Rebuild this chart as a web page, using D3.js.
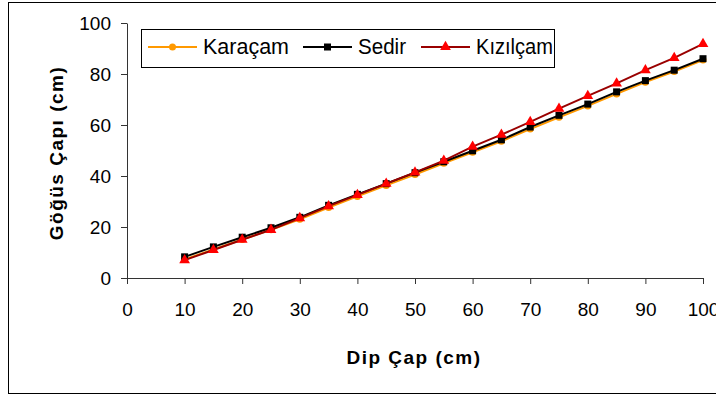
<!DOCTYPE html>
<html><head><meta charset="utf-8">
<script src="https://cdn.jsdelivr.net/npm/d3@7"></script>
<style>body{margin:0;background:#fff}svg{display:block}</style>
</head><body>
<svg id="c" width="716" height="396"></svg>
<script>
const dipCap = [10,15,20,25,30,35,40,45,50,55,60,65,70,75,80,85,90,95,100];
const karacam = [7.3,11.2,15.1,18.9,23,27.6,32,36.3,40.6,45,49.3,53.6,58.4,63,67.5,72.2,76.8,81,85.5];
const sedir = [8.3,12.2,16,19.7,23.8,28.5,32.8,37,41.3,45.6,49.9,54.2,59.2,63.8,68.2,73,77.4,81.5,86];
const kizilcam = [7,11,15,18.9,23.5,28.2,32.6,37,41.4,46,51.5,56.2,61.2,66.4,71.4,76.3,81.5,86.3,91.8];
const xTicks = [0,10,20,30,40,50,60,70,80,90,100];
const yTicks = [0,20,40,60,80,100];
const seriesNames = ["Karaçam","Sedir","Kızılçam"];

const svg = d3.select("#c");
const font = "Arial, 'Liberation Sans', sans-serif";
svg.append("rect").attr("x",8.5).attr("y",2.5).attr("width",730).attr("height",391)
  .attr("fill","#fff").attr("stroke","#000").attr("stroke-width",1);

const x = d3.scaleLinear().domain([0,100]).range([127,703]);
const y = d3.scaleLinear().domain([0,100]).range([278,23]);

const gx = svg.append("g").attr("transform","translate(0,278)")
  .call(d3.axisBottom(x).tickValues(xTicks).tickSize(6).tickPadding(19).tickSizeOuter(0));
const gy = svg.append("g").attr("transform","translate(127,0)")
  .call(d3.axisLeft(y).tickValues(yTicks).tickSize(6).tickPadding(10).tickSizeOuter(0));
[gx,gy].forEach(g=>{
  g.select(".domain").attr("stroke","#333");
  g.selectAll(".tick line").attr("stroke","#333");
  g.selectAll("text").attr("font-family",font).attr("font-size",19).attr("fill","#000");
});

svg.append("text").attr("x",414).attr("y",364).attr("text-anchor","middle")
  .attr("font-family",font).attr("font-size",19).attr("font-weight","bold")
  .attr("letter-spacing",1.5).text("Dip Çap (cm)");
svg.append("text").attr("transform","translate(63,153) rotate(-90)").attr("text-anchor","middle")
  .attr("font-family",font).attr("font-size",19).attr("font-weight","bold")
  .attr("letter-spacing",1.5).text("Göğüs Çapı (cm)");

const line = d3.line().x((d,i)=>x(dipCap[i])).y(d=>y(d));
const styles = [
  {data:karacam, stroke:"#FF9900", fill:"#FF9900", shape:"circle"},
  {data:sedir, stroke:"#000000", fill:"#000000", shape:"square"},
  {data:kizilcam, stroke:"#990000", fill:"#FF0000", shape:"triangle"}
];
function marker(g, shape, cx, cy, fill){
  if(shape==="circle") g.append("circle").attr("cx",cx).attr("cy",cy).attr("r",3.5).attr("fill",fill);
  else if(shape==="square") g.append("rect").attr("x",cx-3.5).attr("y",cy-3.5).attr("width",7).attr("height",7).attr("fill",fill);
  else g.append("path").attr("d",d3.symbol(d3.symbolTriangle,50)()).attr("transform",`translate(${cx},${cy})`).attr("fill",fill);
}
styles.forEach(s=>{
  svg.append("path").attr("d",line(s.data)).attr("fill","none").attr("stroke",s.stroke).attr("stroke-width",2);
  const g = svg.append("g");
  s.data.forEach((v,i)=>marker(g,s.shape,x(dipCap[i]),y(v),s.fill));
});

// legend
const lg = svg.append("g");
lg.append("rect").attr("x",141.5).attr("y",29.5).attr("width",413).attr("height",38)
  .attr("fill","#fff").attr("stroke","#000").attr("stroke-width",1);
const lx = [148,303,421];
const lw = [86,48,77];
seriesNames.forEach((n,i)=>{
  const s = styles[i];
  lg.append("line").attr("x1",lx[i]).attr("x2",lx[i]+49).attr("y1",47).attr("y2",47)
    .attr("stroke",s.stroke).attr("stroke-width",2);
  marker(lg,s.shape,lx[i]+24.5,47,s.fill);
  lg.append("text").attr("x",lx[i]+55).attr("y",54).attr("font-family",font).attr("font-size",22)
    .attr("textLength",lw[i]).attr("lengthAdjust","spacingAndGlyphs").text(n);
});
</script>
</body></html>
